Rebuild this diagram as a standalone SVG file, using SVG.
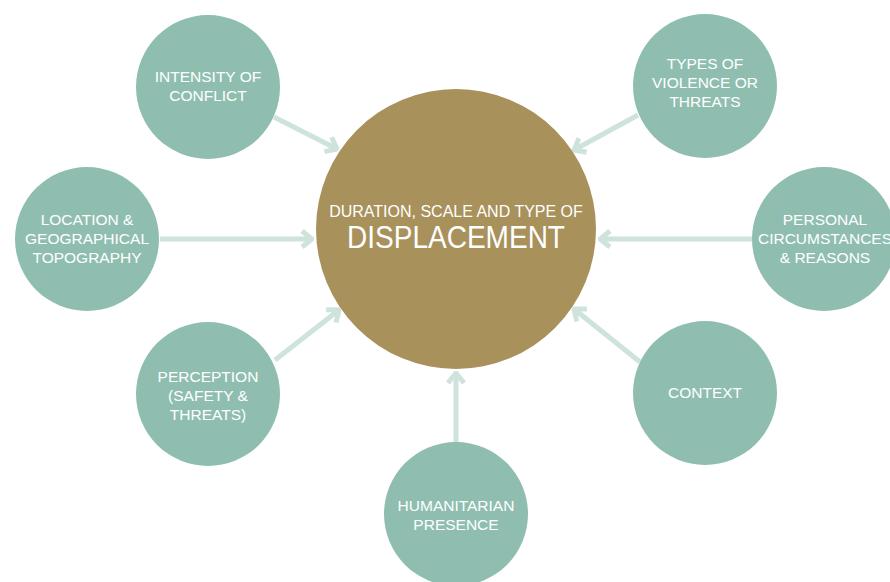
<svg xmlns="http://www.w3.org/2000/svg" width="890" height="582" viewBox="0 0 890 582">
<defs>
<style>
.node{fill:#8fbeb0}
.hub{fill:#a8915b}
.lbl{fill:#fff;font-family:"Liberation Sans",Arial,sans-serif;font-size:15.5px;text-anchor:middle}
.conn{stroke:#cde3dc;stroke-width:5;fill:none}
</style>
<marker id="chev" viewBox="0 0 14 20" refX="12" refY="10" markerWidth="14" markerHeight="20" markerUnits="userSpaceOnUse" orient="auto">
<path d="M2,2 L12,10 L2,18" fill="none" stroke="#cde3dc" stroke-width="5"/>
</marker>
</defs>
<rect width="890" height="582" fill="#fff"/>
<g id="connectors">
<line class="conn" x1="160" y1="239" x2="312" y2="239" marker-end="url(#chev)"/>
<line class="conn" x1="752" y1="239" x2="600" y2="239" marker-end="url(#chev)"/>
<line class="conn" x1="274" y1="117" x2="337" y2="149" marker-end="url(#chev)"/>
<line class="conn" x1="638" y1="115" x2="574" y2="150" marker-end="url(#chev)"/>
<line class="conn" x1="275" y1="360" x2="339" y2="310" marker-end="url(#chev)"/>
<line class="conn" x1="640" y1="362" x2="574" y2="309" marker-end="url(#chev)"/>
<line class="conn" x1="456" y1="442" x2="456" y2="373" marker-end="url(#chev)"/>
</g>
<g id="hub">
<circle class="hub" cx="456" cy="229" r="140"/>
<text class="lbl" x="456" y="217" style="font-size:16px">DURATION, SCALE AND TYPE OF</text>
<text class="lbl" x="456" y="248" style="font-size:31px" textLength="218" lengthAdjust="spacingAndGlyphs">DISPLACEMENT</text>
</g>
<g id="intensity">
<circle class="node" cx="208" cy="87" r="72"/>
<text class="lbl" x="208" y="82">INTENSITY OF</text>
<text class="lbl" x="208" y="101">CONFLICT</text>
</g>
<g id="types">
<circle class="node" cx="705" cy="86" r="72"/>
<text class="lbl" x="705" y="69">TYPES OF</text>
<text class="lbl" x="705" y="88">VIOLENCE OR</text>
<text class="lbl" x="705" y="107">THREATS</text>
</g>
<g id="location">
<circle class="node" cx="87" cy="239" r="72"/>
<text class="lbl" x="87" y="225">LOCATION &amp;</text>
<text class="lbl" x="87" y="244">GEOGRAPHICAL</text>
<text class="lbl" x="87" y="263">TOPOGRAPHY</text>
</g>
<g id="personal">
<circle class="node" cx="824" cy="239" r="72"/>
<text class="lbl" x="825" y="225">PERSONAL</text>
<text class="lbl" x="825" y="244">CIRCUMSTANCES</text>
<text class="lbl" x="825" y="263">&amp; REASONS</text>
</g>
<g id="perception">
<circle class="node" cx="208" cy="394" r="72"/>
<text class="lbl" x="208" y="382">PERCEPTION</text>
<text class="lbl" x="208" y="401">(SAFETY &amp;</text>
<text class="lbl" x="208" y="420">THREATS)</text>
</g>
<g id="context">
<circle class="node" cx="705" cy="393" r="72"/>
<text class="lbl" x="705" y="398">CONTEXT</text>
</g>
<g id="humanitarian">
<circle class="node" cx="456" cy="514" r="72"/>
<text class="lbl" x="456" y="511">HUMANITARIAN</text>
<text class="lbl" x="456" y="530">PRESENCE</text>
</g>
</svg>
